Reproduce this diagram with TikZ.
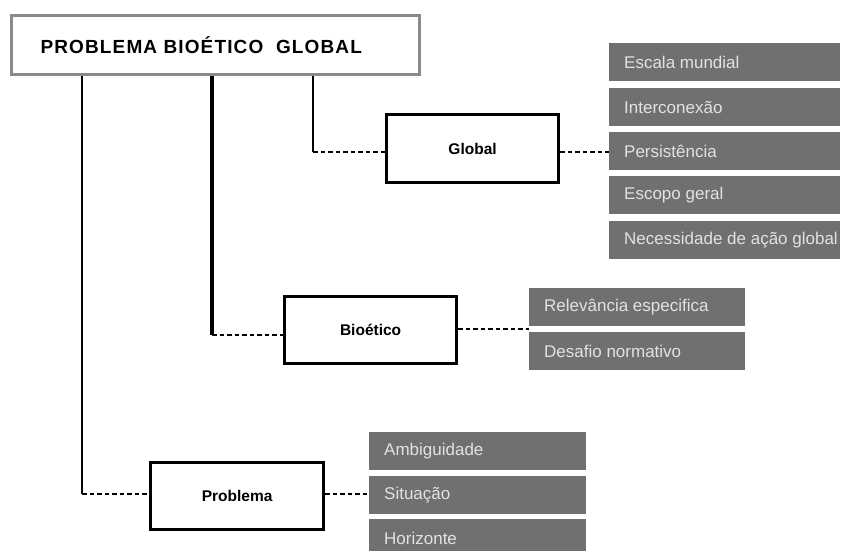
\documentclass[tikz,border=0pt]{standalone}
\usepackage{fontspec}
\setmainfont{Liberation Sans}
\newfontfamily\titlefont[LetterSpace=6]{Liberation Sans}
\definecolor{boxgray}{HTML}{707070}
\definecolor{boxtext}{HTML}{E2E2E2}
\definecolor{framegray}{HTML}{8A8A8A}
\tikzset{
  titlebox/.style={draw=framegray, line width=3pt, fill=white, anchor=north west,
    minimum width=408pt, minimum height=59pt, inner xsep=29pt, text width=350pt, align=left,
    font=\titlefont\bfseries\fontsize{19}{22}\selectfont},
  catbox/.style={draw=black, line width=3.2pt, fill=white, anchor=north west,
    font=\bfseries\fontsize{15.5}{18}\selectfont},
  graytext/.style={text=boxtext, anchor=west, xshift=15pt, inner xsep=0pt,
    font=\fontsize{17}{20}\selectfont},
  graybox/.style={fill=boxgray, anchor=north west, minimum height=38pt,
    label={[graytext]west:#1}},
  vline/.style={draw=black, line width=3pt},
  dotline/.style={draw=black, line width=2.7pt, dash pattern=on 4.5pt off 3pt}
}
\begin{document}
\begin{tikzpicture}[x=1pt,y=-1pt]
\useasboundingbox (0,0) rectangle (841,550);
% title
\node[titlebox] (title) at (10,14) {PROBLEMA BIOÉTICO\ \ GLOBAL};
% category boxes
\node[catbox, minimum width=172pt, minimum height=68pt] (global) at (385,113) {Global};
\node[catbox, minimum width=172pt, minimum height=67pt] (bio) at (283,295) {Bioético};
\node[catbox, minimum width=173pt, minimum height=67pt] (prob) at (149,461) {Problema};
% gray boxes: global
\node[graybox={Escala mundial}, minimum width=231pt] (g1) at (609,43) {};
\node[graybox={Interconexão}, minimum width=231pt] (g2) at (609,88) {};
\node[graybox={Persistência}, minimum width=231pt] (g3) at (609,132) {};
\node[graybox={Escopo geral}, minimum width=231pt] (g4) at (609,176) {};
\node[graybox={Necessidade de ação global}, minimum width=231pt] (g5) at (609,221) {};
% gray boxes: bioetico
\node[graybox={Relevância especifica}, minimum width=216pt] (b1) at (529,288) {};
\node[graybox={Desafio normativo}, minimum width=216pt] (b2) at (529,332) {};
% gray boxes: problema
\node[graybox={Ambiguidade}, minimum width=217pt] (p1) at (369,432) {};
\node[graybox={Situação}, minimum width=217pt] (p2) at (369,476) {};
\node[graybox={Horizonte}, minimum width=217pt] (p3) at (369,519) {};
% connectors
\coordinate (cg) at (313,152);
\coordinate (cb) at (212,335);
\coordinate (cp) at (82,494);
\coordinate (bj) at (529,329);
\draw[vline, line width=2.8pt] (title.south -| cg) -- (cg);
\draw[vline, line width=3.6pt] (title.south -| cb) -- (cb);
\draw[vline, line width=2.6pt] (title.south -| cp) -- (cp);
\draw[dotline] (cg) -- (global.west |- cg);
\draw[dotline] (cb) -- (bio.west |- cb);
\draw[dotline] (cp) -- (prob.west |- cp);
\draw[dotline] (global.east |- cg) -- (g3.west |- cg);
\draw[dotline] (bio.east |- bj) -- (bj);
\draw[dotline] (prob.east |- cp) -- (p2.west |- cp);
\end{tikzpicture}
\end{document}
